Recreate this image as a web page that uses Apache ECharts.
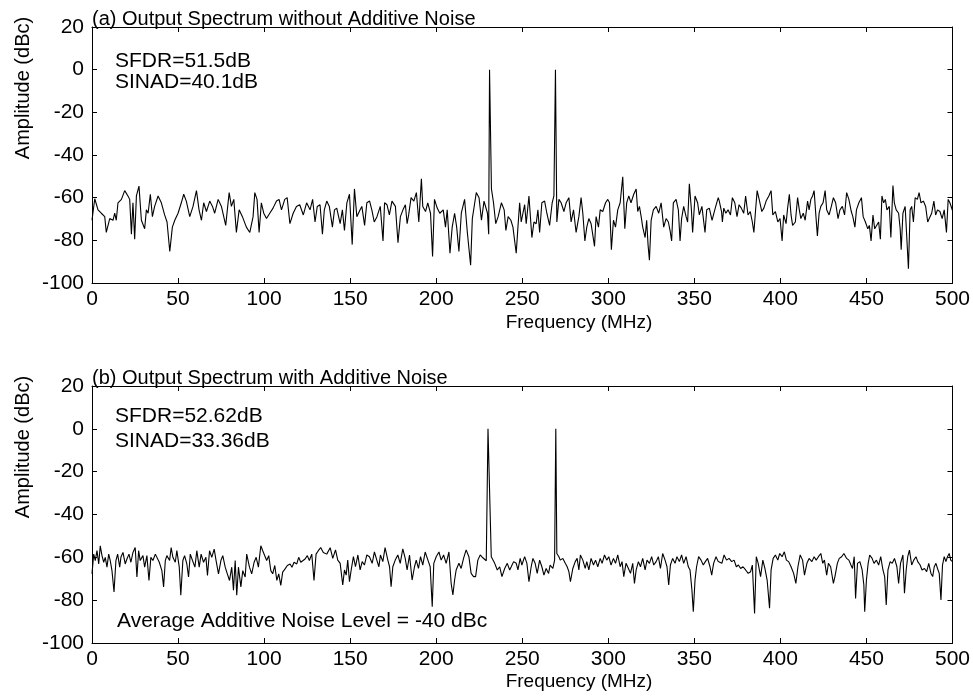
<!DOCTYPE html>
<html>
<head>
<meta charset="utf-8">
<script src="https://cdn.jsdelivr.net/npm/echarts@6/dist/echarts.min.js"></script>
<style>
html, body { margin: 0; background: #fff; }
#main { width: 973px; height: 700px; }
</style>
</head>
<body>
<div id="main"></div>
<script>
// panel titles and notes
var titles = ['(a) Output Spectrum without Additive Noise', '(b) Output Spectrum with Additive Noise'];
var notesA = ['SFDR=51.5dB', 'SINAD=40.1dB'];
var notesB = ['SFDR=52.62dB', 'SINAD=33.36dB', 'Average Additive Noise Level = -40 dBc'];
var xName = 'Frequency (MHz)';
var yName = 'Amplitude (dBc)';

// spectrum (a), [MHz, dBc]
var traceA = [
  [0,-70.6],[1.6,-60.5],[3.5,-65.7],[5.4,-67.3],[7.4,-68.9],[8.3,-76.3],[10.3,-69.8],[12.2,-70.6],[13.2,-67.3],[14.1,-70.6],
  [15.1,-62.4],[17.1,-60.8],[19.0,-56.7],[20.9,-59.2],[21.9,-60.8],[22.9,-77.1],[23.8,-62.4],[24.8,-79.5],[25.8,-59.2],[27.3,-54.6],
  [28.7,-70.6],[30.6,-74.6],[31.6,-65.7],[32.6,-67.3],[33.9,-58.4],[35.1,-68.9],[36.4,-64.1],[38.4,-59.2],[40.3,-62.4],[42.2,-68.1],
  [43.6,-71.4],[45.2,-85.2],[46.7,-73.8],[48.1,-70.6],[50.0,-67.3],[51.9,-62.4],[53.3,-58.4],[54.8,-61.6],[56.8,-68.9],[58.7,-64.1],
  [60.7,-56.7],[62.2,-65.7],[63.6,-70.6],[64.9,-62.4],[66.5,-66.5],[68.4,-61.6],[70.0,-64.1],[71.3,-67.3],[73.3,-60.8],[75.2,-64.1],
  [77.7,-73.0],[79.7,-57.6],[81.0,-64.1],[82.4,-60.8],[83.9,-76.3],[85.5,-65.7],[87.4,-68.9],[89.7,-73.8],[91.7,-76.3],[93.6,-68.9],
  [94.6,-57.6],[95.9,-60.8],[97.1,-76.3],[98.4,-62.4],[99.8,-67.3],[101.4,-69.8],[103.3,-67.3],[105.2,-64.9],[107.2,-61.6],[108.7,-60.8],
  [110.1,-65.7],[112.0,-60.8],[113.4,-60.0],[115.0,-72.2],[116.9,-67.3],[118.8,-64.1],[120.7,-63.3],
  [122.8,-68.1],[124.7,-62.4],[126.7,-65.7],[128.2,-60.8],[129.6,-71.4],[130.9,-64.1],[132.5,-63.3],[133.9,-77.1],[135.0,-65.7],[136.4,-61.6],
  [137.9,-64.1],[139.7,-73.8],[140.9,-65.7],[142.2,-64.9],[144.2,-72.2],[145.5,-65.7],[146.7,-75.4],[148.1,-62.4],[149.6,-58.4],[151.2,-82.0],
  [152.5,-55.9],[153.9,-68.9],[155.8,-65.7],[156.8,-64.1],[158.4,-73.0],[159.7,-62.4],[161.3,-61.6],[162.6,-65.7],[164.0,-71.4],[165.6,-68.9],
  [167.5,-64.1],[169.1,-80.3],[170.0,-62.4],[171.4,-63.3],[172.8,-68.1],[174.3,-61.6],[176.3,-64.1],[177.8,-81.1],[179.2,-68.9],[180.7,-65.7],
  [182.1,-63.3],[183.1,-72.2],[184.0,-68.1],[185.4,-60.0],[187.0,-61.6],[188.5,-57.6],[189.9,-71.4],[191.4,-51.1],[192.2,-64.1],[193.8,-66.5],
  [195.1,-62.4],[196.7,-67.3],[197.9,-87.6],[199.0,-60.8],[200.6,-64.9],[202.1,-67.3],[204.1,-65.7],[205.4,-73.8],[206.4,-65.7],[208.0,-86.0],
  [209.3,-73.8],[210.7,-67.3],[211.9,-73.8],[213.2,-85.2],[214.6,-67.3],[216.5,-60.8],[218.1,-76.3],[220.0,-91.7],[221.0,-69.8],[222.4,-62.4],
  [223.3,-57.6],[224.9,-60.0],[226.3,-70.6],[227.8,-61.6],[229.8,-67.3],[230.5,-77.1],[231.0,0],[232.1,-55.9],[233.3,-62.4],[234.6,-72.2],
  [236.0,-68.9],[237.9,-62.4],[239.5,-65.7],[240.5,-75.4],[241.8,-68.9],[243.4,-70.6],
  [244.6,-73.8],[245.6,-80.3],[246.5,-86.0],[247.5,-73.8],[248.5,-62.4],[249.4,-71.4],[250.4,-70.6],[251.4,-63.3],[252.3,-72.2],[253.9,-59.2],
  [254.6,-67.3],[255.6,-78.7],[256.8,-71.4],[258.1,-72.2],[259.1,-65.7],[260.1,-76.3],[261.4,-62.4],[263.0,-61.6],[264.3,-67.3],[265.9,-73.0],
  [267.4,-62.4],[268.4,-59.2],[269.3,0],[270.1,-71.4],[271.3,-60.8],[272.6,-62.4],[274.2,-66.5],[275.5,-62.4],[277.1,-60.0],[278.4,-71.4],
  [279.8,-65.7],[281.3,-76.3],[282.9,-68.9],[284.2,-60.0],[285.2,-67.3],[286.4,-80.3],[287.5,-73.8],[288.7,-69.8],[290.0,-72.2],[292.0,-82.8],
  [292.9,-68.9],[294.3,-73.8],[295.3,-65.7],[296.8,-66.5],[298.4,-62.4],[299.7,-60.8],[300.7,-62.4],[301.8,-84.4],[303.0,-70.6],[304.2,-73.8],
  [305.5,-65.7],[306.9,-62.4],[308.4,-50.2],[309.6,-74.6],[310.7,-62.4],[311.9,-59.2],[313.2,-62.4],[314.8,-58.4],[316.2,-55.9],[317.1,-66.5],
  [318.1,-64.1],[319.1,-68.9],[320.0,-73.8],[321.4,-78.7],[322.3,-70.6],[323.1,-82.0],[323.9,-89.3],[324.9,-70.6],[326.2,-65.7],[327.8,-64.1],
  [329.3,-67.3],[330.7,-62.4],[332.2,-73.8],[333.6,-69.8],[334.9,-71.4],[335.9,-75.4],[336.8,-80.3],[337.8,-62.4],[339.4,-60.8],[340.7,-65.7],
  [341.7,-80.3],[342.6,-69.8],[343.8,-64.1],[345.2,-68.9],[346.1,-71.4],[347.1,-53.5],[348.3,-65.7],[349.0,-76.3],[350.4,-59.2],[351.9,-62.4],
  [352.9,-68.1],[354.4,-64.1],[356.2,-76.3],[357.2,-65.7],[358.7,-64.9],[360.3,-70.6],[361.6,-66.5],[363.0,-62.4],[363.9,-60.0],[364.5,-61.6],
  [365.8,-66.5],[366.3,-71.4],[367.1,-64.9],[368.3,-67.3],[369.6,-65.7],[371.0,-68.1],[372.1,-60.0],[373.5,-62.4],[374.8,-68.9],[376.0,-63.3],
  [377.3,-64.9],[378.7,-67.3],[379.8,-59.2],[381.2,-68.1],[382.5,-66.5],[383.7,-71.4],[384.6,-76.3],[385.6,-65.7],[386.5,-56.7],[387.9,-61.6],
  [389.2,-66.5],[390.4,-64.9],[391.7,-61.6],[393.3,-59.2],[394.6,-56.7],[395.6,-68.1],[397.1,-66.5],[398.5,-71.4],[399.8,-69.8],[401.0,-80.3],
  [401.9,-68.1],[403.3,-72.2],[404.2,-64.9],[405.2,-58.4],[406.2,-68.1],[407.1,-73.0],[408.7,-71.4],[410.0,-60.0],[411.0,-65.7],[411.9,-69.8],
  [413.3,-67.3],[414.4,-70.6],[415.8,-61.6],[416.7,-65.7],[417.7,-60.8],[418.7,-59.2],[419.6,-56.7],[420.6,-68.1],[421.5,-77.9],[422.5,-67.3],
  [423.5,-64.1],[424.8,-62.4],[426.0,-56.7],[426.9,-65.7],[428.3,-68.1],[429.6,-64.1],[430.8,-60.0],[432.1,-62.4],[433.5,-69.8],[434.6,-65.7],
  [436.0,-64.1],[437.3,-68.1],[438.5,-57.6],[439.8,-60.8],[441.2,-66.5],[442.1,-68.9],[443.3,-73.8],[444.2,-65.7],[445.6,-62.4],[447.1,-60.0],
  [448.1,-68.9],[449.4,-71.4],[450.8,-74.6],[451.7,-73.0],[452.7,-80.3],[453.8,-68.1],[454.8,-74.6],[455.8,-73.8],[457.1,-71.4],[458.1,-79.5],
  [459.0,-59.2],[460.0,-62.4],[461.0,-60.8],[461.9,-65.7],[463.3,-64.1],[464.2,-78.7],[465.4,-54.3],[466.2,-62.4],[467.3,-65.7],[468.7,-67.3],
  [469.6,-74.6],[470.2,-84.4],[471.2,-67.3],[472.5,-64.1],[473.5,-63.3],[474.4,-93.3],[475.4,-65.7],[476.3,-64.1],[477.3,-71.4],[478.3,-60.0],
  [479.6,-60.8],[480.6,-57.6],[481.7,-62.4],[483.1,-61.6],[484.4,-64.1],[485.6,-71.4],[486.5,-69.8],[487.9,-67.3],[489.2,-61.6],[490.2,-68.1],
  [491.3,-65.7],[492.7,-66.5],[494.0,-69.8],[495.2,-65.7],[496.5,-76.3],[497.5,-60.8],[498.5,-62.4],[500,-66.0]
];

// spectrum (b), [MHz, dBc]
var traceB = [
  [0,-67.7],[1.0,-58.5],[1.9,-61.5],[2.9,-56.9],[3.9,-63.1],[4.8,-54.6],[5.8,-59.2],[6.8,-62.3],[7.7,-60.0],[8.7,-64.6],
  [9.7,-58.5],[10.6,-61.5],[11.6,-66.2],[12.8,-76.2],[13.9,-61.5],[14.9,-58.5],[16.1,-64.6],[16.8,-60.0],[18.0,-57.7],[19.3,-63.1],
  [20.3,-60.8],[21.5,-58.5],[22.6,-62.3],[23.8,-57.7],[25.1,-55.4],[26.1,-69.2],[27.1,-56.9],[28.0,-61.5],[29.6,-59.2],[30.6,-64.6],
  [31.9,-59.2],[33.1,-70.8],[34.2,-60.0],[35.4,-61.5],[36.8,-58.5],[37.7,-57.7],[39.1,-62.3],[40.6,-66.2],[41.6,-73.8],[42.6,-61.5],
  [43.5,-59.2],[45.1,-61.5],[46.0,-55.4],[47.0,-60.0],[48.4,-62.3],[49.3,-56.9],[50.7,-64.6],[51.6,-77.7],[52.8,-61.5],[53.8,-59.2],
  [55.1,-63.1],[56.1,-69.2],[57.1,-58.5],[58.4,-61.5],[59.8,-64.6],[60.9,-56.9],[62.3,-64.6],[63.4,-58.5],[64.8,-62.3],[66.2,-60.0],
  [67.1,-68.5],[68.3,-56.9],[69.6,-60.0],[71.0,-56.2],[72.1,-61.5],[73.5,-67.7],[74.9,-61.5],[76.0,-59.2],[77.4,-64.6],[78.3,-66.9],
  [79.9,-70.8],[81.2,-64.6],[82.2,-75.4],[83.2,-61.5],[84.1,-77.7],[85.1,-64.6],[86.5,-73.8],[87.6,-66.2],[89.0,-69.2],[89.9,-58.5],
  [91.5,-64.6],[92.8,-67.7],[94.2,-62.3],[95.4,-60.0],[96.7,-64.6],[98.1,-54.6],[99.2,-56.9],[100.2,-56.2],[101.5,-61.5],[102.7,-59.2],
  [103.9,-66.2],[105.0,-67.7],[106.2,-63.8],[107.4,-70.8],[108.5,-67.7],[109.7,-73.1],[110.8,-66.9],[112.2,-65.4],[113.5,-63.8],[115.1,-63.1],
  [116.2,-64.6],[117.4,-62.3],[119.0,-63.1],[120.1,-60.0],[121.3,-62.3],[122.4,-61.5],[123.8,-60.8],[125.1,-59.2],[126.3,-61.5],[127.7,-58.5],
  [129.0,-70.8],[130.2,-58.5],[131.5,-56.9],[132.9,-55.4],[134.4,-57.7],[136.4,-58.5],
  [138.4,-55.5],[139.9,-60.5],[141.5,-56.5],[142.8,-61.3],[144.2,-62.8],[145.7,-72.9],[146.7,-65.9],[147.7,-68.3],[148.6,-61.3],[149.6,-71.4],
  [150.6,-65.9],[151.9,-59.7],[153.1,-64.4],[154.5,-58.9],[155.8,-65.9],[157.0,-62.0],[158.3,-63.6],[159.7,-58.9],[161.2,-59.7],[162.8,-62.8],
  [164.1,-57.5],[165.5,-61.3],[166.7,-64.4],[167.6,-58.9],[169.0,-62.0],[170.3,-55.5],[171.9,-61.3],[172.9,-64.4],[173.8,-73.7],[174.8,-64.4],
  [176.2,-61.3],[177.7,-58.9],[179.1,-62.8],[180.6,-56.0],[182.0,-60.5],[183.1,-65.9],[184.5,-58.9],[186.0,-70.6],[187.4,-64.4],[188.4,-61.3],
  [189.7,-65.2],[190.9,-59.7],[192.2,-63.6],[193.6,-57.5],[195.2,-61.3],[196.5,-64.4],[197.7,-83.1],[198.6,-62.8],[200.0,-59.7],[201.6,-57.5],
  [202.9,-61.3],[204.3,-58.9],[205.8,-62.8],[207.4,-57.5],[208.7,-72.2],[209.7,-77.6],[210.7,-70.6],[211.6,-65.9],[213.2,-62.8],[214.5,-65.2],
  [215.9,-60.5],[217.4,-56.5],[219.0,-59.7],[220.3,-67.5],[221.7,-69.0],[222.9,-69.0],[224.2,-61.3],[225.6,-58.9],[227.1,-60.2],[229.1,-61.6],
  [230.1,0],[232.0,-59.7],[234.0,-62.8],[235.5,-65.9],[236.9,-64.4],[238.2,-69.0],[239.8,-65.2],[241.3,-62.8],[242.7,-65.9],[243.6,-64.4],
  [245.0,-62.0],[246.5,-62.8],[247.5,-65.9],[248.8,-60.5],[249.8,-63.6],[251.4,-59.7],[252.7,-62.8],[253.9,-71.4],[255.2,-64.4],[256.2,-60.5],
  [257.5,-62.8],[258.7,-67.5],[260.1,-61.3],[261.4,-64.4],[262.6,-68.3],[263.9,-65.2],[265.3,-67.5],[266.2,-63.6],[267.8,-65.2],[268.8,-61.3],
  [269.5,0],[270.1,-58.2],[271.3,-59.7],[272.1,-61.3],[273.6,-60.5],[275.0,-62.8],[276.1,-64.4],[277.1,-66.7],[278.0,-71.4],[279.4,-65.2],
  [280.8,-62.0],[281.9,-60.5],[282.9,-65.9],[283.8,-58.9],[285.2,-61.3],[286.6,-65.2],[287.5,-62.0],[288.7,-65.9],[290.0,-60.5],[291.4,-63.6],
  [292.6,-61.3],[293.9,-64.4],[295.3,-60.5],[296.4,-62.8],[297.8,-58.9],[299.1,-61.3],[300.3,-59.7],[301.6,-63.6],[303.0,-60.5],[304.2,-62.8],
  [305.5,-58.9],[306.9,-64.4],[308.0,-62.0],[309.0,-69.0],[310.3,-62.8],[311.7,-65.2],[312.9,-67.5],[314.2,-62.8],[315.2,-72.2],[316.2,-65.9],
  [317.5,-62.0],[318.7,-64.4],[320.0,-60.5],[321.4,-65.9],[322.5,-61.3],[323.9,-62.8],[325.2,-59.7],[326.4,-63.6],[327.8,-62.0],[329.1,-59.7],
  [330.3,-65.2],[331.6,-58.2],[333.0,-61.3],[334.1,-64.4],[335.1,-72.9],[336.1,-63.6],[337.4,-60.5],[338.8,-62.8],[339.9,-59.7],[341.3,-62.0],
  [342.6,-58.9],[343.8,-62.8],[345.2,-59.7],[346.5,-64.4],[347.5,-65.9],[348.6,-75.3],[349.4,-85.4],[350.4,-70.6],[351.3,-64.4],[352.5,-59.7],
  [353.9,-61.3],[355.2,-63.6],[356.4,-62.0],[357.7,-60.5],[359.1,-64.4],[360.1,-68.3],[361.2,-62.8],[362.6,-59.7],[363.9,-62.0],
  [366.0,-62.8],[367.3,-58.9],[368.7,-61.3],[370.2,-60.5],[371.7,-62.0],[373.1,-61.3],[374.4,-64.4],[375.6,-63.6],[376.9,-65.2],[378.3,-64.4],
  [379.8,-65.9],[381.3,-67.5],[382.7,-66.7],[383.7,-63.6],[385.0,-86.2],[386.0,-59.7],[387.1,-62.8],[388.5,-69.0],[389.8,-61.3],[391.0,-65.2],
  [392.3,-70.6],[393.7,-83.8],[394.6,-65.9],[395.8,-60.5],[397.1,-58.9],[398.5,-61.3],[399.6,-58.2],[401.0,-59.7],[402.3,-57.4],[403.5,-61.3],
  [404.8,-62.0],[406.2,-64.4],[407.7,-67.5],[409.0,-72.2],[410.2,-64.4],[411.5,-58.9],[412.9,-61.3],[414.0,-68.3],[415.4,-62.8],[416.7,-60.5],
  [418.3,-62.0],[419.6,-59.7],[420.8,-61.3],[422.1,-59.7],[423.5,-58.2],[424.6,-62.8],[425.6,-61.3],[426.9,-68.3],[427.9,-62.8],[429.2,-64.4],
  [430.8,-72.2],[431.7,-69.0],[433.1,-62.8],[434.2,-60.5],[435.6,-59.7],[436.9,-58.2],[438.5,-60.5],[439.8,-61.3],[441.0,-63.6],[441.9,-65.2],
  [442.9,-59.7],[443.7,-79.2],[444.8,-62.8],[446.2,-62.0],[447.5,-65.9],[448.5,-72.9],[449.0,-85.4],[450.0,-70.6],[451.0,-62.8],[451.9,-58.9],
  [453.3,-60.5],[454.4,-62.8],[455.8,-61.3],[457.1,-63.6],[458.3,-59.7],[459.6,-65.9],[460.6,-69.0],[461.5,-82.3],[462.5,-65.9],[463.8,-62.0],
  [465.0,-62.8],[466.3,-60.5],[467.7,-64.4],[468.7,-72.2],[469.8,-62.8],[471.2,-58.9],[472.1,-76.8],[473.1,-65.9],[474.0,-59.7],[475.0,-56.6],
  [476.3,-63.6],[477.5,-61.3],[478.8,-59.7],[479.8,-62.0],[481.2,-63.6],[482.3,-65.9],[483.7,-65.2],[485.0,-66.7],[486.2,-62.8],[487.5,-67.5],
  [488.5,-69.0],[489.4,-64.4],[490.4,-62.8],[491.3,-65.2],[492.3,-67.5],[493.3,-79.9],[494.2,-63.6],[495.2,-59.7],[496.2,-62.0],[497.1,-59.7],
  [498.1,-58.2],[499.0,-61.3],[500,-62.0]
];

var myChart = echarts.init(document.getElementById('main'));
var font = '"Liberation Sans", Arial, sans-serif';

function axisBits() {
  return {
    axisLine: {onZero: false, lineStyle: {color: '#000', width: 1}},
    axisTick: {inside: true, length: 5, lineStyle: {color: '#000'}},
    splitLine: {show: false}
  };
}

function xAxes(g) {
  var main = Object.assign({
    type: 'value', gridIndex: g, min: 0, max: 500, interval: 50,
    axisLabel: {color: '#000', fontSize: 21, fontFamily: font, margin: 6}
  }, axisBits());
  var mirror = Object.assign({
    type: 'value', gridIndex: g, position: 'top', min: 0, max: 500, interval: 50,
    axisLabel: {show: false}
  }, axisBits());
  return [main, mirror];
}

function yAxes(g) {
  var main = Object.assign({
    type: 'value', gridIndex: g, min: -100, max: 20, interval: 20,
    axisLabel: {color: '#000', fontSize: 21, fontFamily: font, margin: 8}
  }, axisBits());
  var mirror = Object.assign({
    type: 'value', gridIndex: g, position: 'right', min: -100, max: 20, interval: 20,
    axisLabel: {show: false}
  }, axisBits());
  return [main, mirror];
}

function label(text, x, y, size, align, rot) {
  return {
    type: 'text', x: x, y: y, rotation: rot || 0,
    style: {text: text, fill: '#000', fontSize: size, fontFamily: font,
            align: align || 'left', verticalAlign: 'middle'}
  };
}

option = {
  animation: false,
  backgroundColor: '#fff',
  grid: [
    {left: 92, right: 19, top: 27, height: 256},
    {left: 92, right: 19, top: 386, height: 257}
  ],
  xAxis: xAxes(0).concat(xAxes(1)),
  yAxis: yAxes(0).concat(yAxes(1)),
  graphic: [
    label(titles[0], 92, 19, 20),
    label(notesA[0], 115, 61, 21),
    label(notesA[1], 115, 82, 21),
    label(yName, 23, 88, 20, 'center', Math.PI / 2),
    label(xName, 579, 323, 19, 'center'),
    label(titles[1], 92, 378, 20),
    label(notesB[0], 115, 416, 21),
    label(notesB[1], 115, 441, 21),
    label(notesB[2], 117, 621, 21),
    label(yName, 23, 447, 20, 'center', Math.PI / 2),
    label(xName, 579, 682, 19, 'center')
  ],
  series: [{
    type: 'line', xAxisIndex: 0, yAxisIndex: 0, data: traceA,
    showSymbol: false, lineStyle: {color: '#000', width: 1.1}
  }, {
    type: 'line', xAxisIndex: 2, yAxisIndex: 2, data: traceB,
    showSymbol: false, lineStyle: {color: '#000', width: 1.1}
  }]
};

myChart.setOption(option);
</script>
</body>
</html>
